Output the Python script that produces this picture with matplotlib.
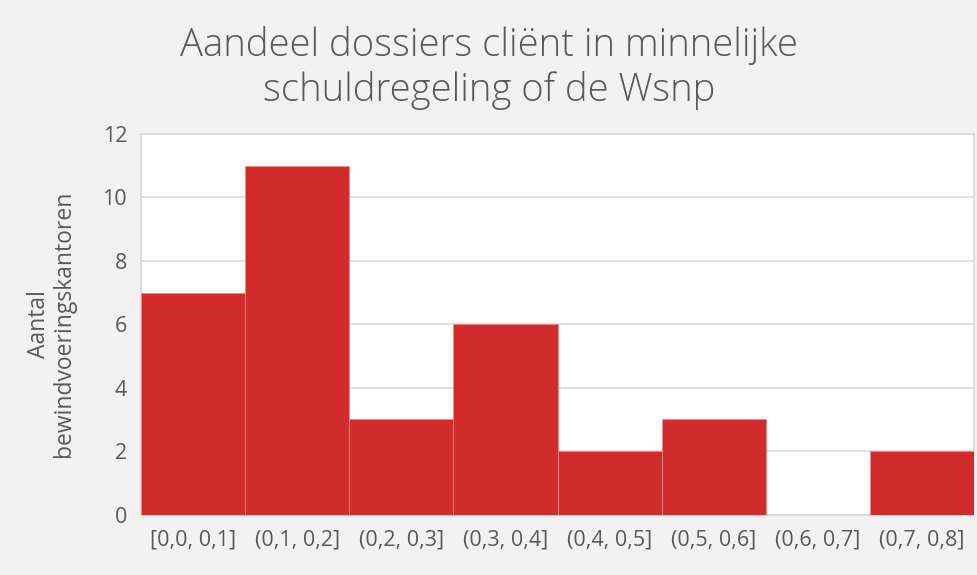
import matplotlib.pyplot as plt

categories = ['[0,0, 0,1]', '(0,1, 0,2]', '(0,2, 0,3]', '(0,3, 0,4]',
              '(0,4, 0,5]', '(0,5, 0,6]', '(0,6, 0,7]', '(0,7, 0,8]']
counts = [7, 11, 3, 6, 2, 3, 0, 2]
y_ticks = [0, 2, 4, 6, 8, 10, 12]

plt.rcParams['font.family'] = ['Open Sans', 'DejaVu Sans']

fig = plt.figure(figsize=(9.78, 5.75), dpi=100, facecolor='#f2f2f2')
ax = fig.add_axes([0.1442, 0.105, 0.8518, 0.662])
ax.set_facecolor('white')

xpos = list(range(len(categories)))
ax.bar(xpos, counts, width=1.0, color='#d22b2b', edgecolor='#e88a8a',
       linewidth=0.6, zorder=3)

ax.set_xlim(-0.5, len(categories) - 0.5)
ax.set_ylim(0, 12)
ax.set_yticks(y_ticks)
ax.set_xticks(xpos)
ax.set_xticklabels(categories)
ax.grid(axis='y', color='#d9d9d9', linewidth=1.2, zorder=0)
ax.tick_params(length=0, labelsize=15.5, labelcolor='#595959', pad=10)
ax.tick_params(axis='x', pad=11)
for s in ax.spines.values():
    s.set_color('#d9d9d9')
    s.set_linewidth(1.2)

ax.set_ylabel('Aantal\nbewindvoeringskantoren', fontsize=16.5, color='#595959',
              labelpad=19, linespacing=1.05)

fig.text(0.5, 0.882, 'Aandeel dossiers cliënt in minnelijke\nschuldregeling of de Wsnp',
         ha='center', va='center', fontsize=27.5, color='#595959',
         fontweight='light', linespacing=1.18)

fig.savefig('out.png', dpi=100, facecolor=fig.get_facecolor())
